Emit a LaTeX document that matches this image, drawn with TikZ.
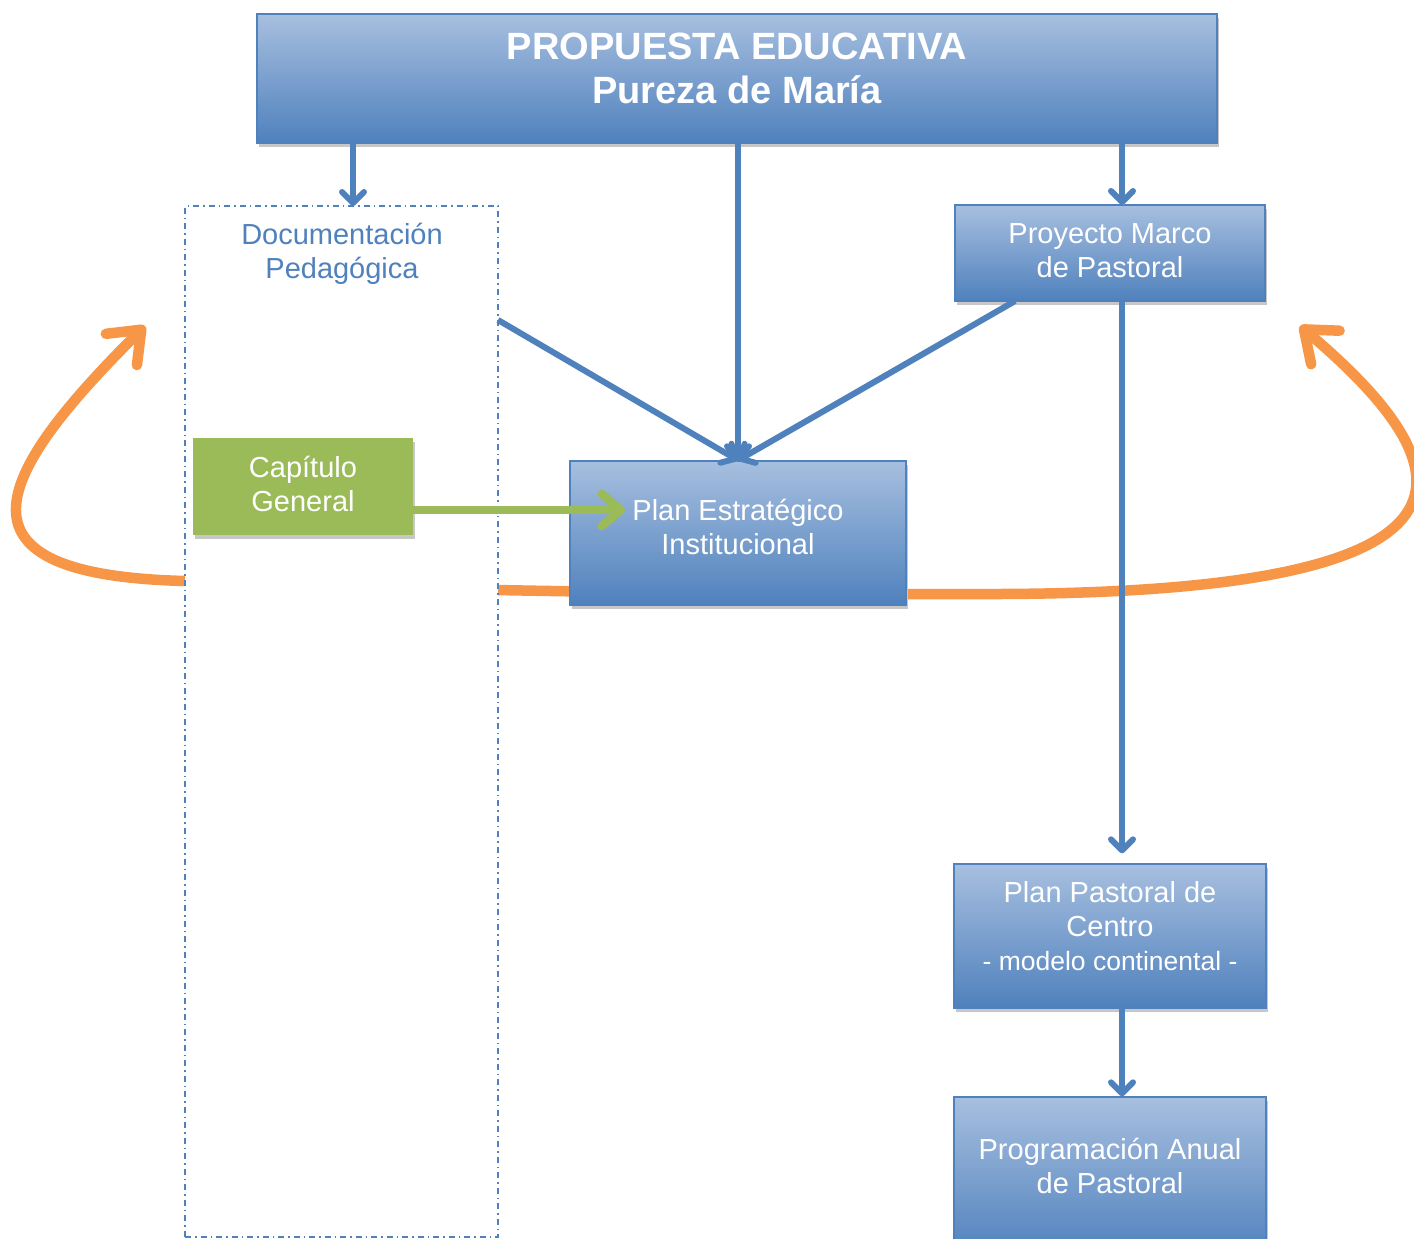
\documentclass[tikz,border=0pt]{standalone}
\usepackage{fontspec}
\setmainfont{Liberation Sans}
\usetikzlibrary{arrows.meta,shadows}
\definecolor{peBlue}{RGB}{79,129,189}
\definecolor{peLight}{RGB}{167,191,223}
\definecolor{peGreen}{RGB}{155,187,89}
\definecolor{peOrange}{RGB}{247,150,70}

\tikzset{
  boxshadow/.style={drop shadow={shadow xshift=1.5pt,shadow yshift=-4pt,fill=black!22,opacity=1}},
  bluebox/.style={draw=peBlue, line width=1.4pt, top color=peLight, bottom color=peBlue, inner sep=0pt, boxshadow},
  boxtext/.style={text=white, align=center, inner sep=0pt, font=\fontsize{29}{34}\selectfont},
  lineshadow/.style={preaction={draw=black!20, transform canvas={xshift=1.5pt,yshift=-2.5pt}}},
  flow/.style={draw=peBlue, line width=6pt, lineshadow, -{Straight Barb[round,length=11pt,width=22pt]}},
  capflow/.style={draw=peGreen, line width=8.5pt, lineshadow, -{Straight Barb[round,length=19pt,width=32pt]}},
  cycleflow/.style={draw=peOrange, line width=10.5pt, lineshadow,
    arrows={Straight Barb[round,length=28pt,width=44pt]-Straight Barb[round,length=28pt,width=44pt]}},
}

\begin{document}
\begin{tikzpicture}[x=1pt,y=-1pt]
  \useasboundingbox (0,0) rectangle (1414,1239);
  \clip (0,0) rectangle (1414,1239);

  % orange cycle, behind the boxes
  \coordinate (cycleL) at (145,326);
  \coordinate (cycleR) at (1300,326);
  \draw[cycleflow] (cycleL) .. controls (-10,480) and (-55,575) .. (185,581)
    .. controls (450,592) and (800,595) .. (1000,594)
    .. controls (1510,592) and (1470,470) .. (cycleR);

  % documentacion pedagogica
  \node[draw=peBlue, fill=white, line width=1.4pt, dash pattern=on 6pt off 4pt on 1.5pt off 4pt,
    minimum width=313pt, minimum height=1031pt] (doc) at (341.5,721.5) {};
  \node[text=peBlue, align=center, inner sep=0pt, font=\fontsize{29}{34}\selectfont] (doc-text) at (342,253.5) {Documentación\\Pedagógica};

  % boxes
  \node[bluebox, minimum width=960pt, minimum height=129pt] (propuesta) at (737,78.5) {};
  \node[boxtext, font=\bfseries\fontsize{38}{44}\selectfont] (propuesta-text) at (737,68) {PROPUESTA EDUCATIVA\\Pureza de María};

  \node[bluebox, minimum width=310pt, minimum height=96pt] (pmp) at (1110,253) {};
  \node[boxtext] (pmp-text) at (1110,251) {Proyecto Marco\\de Pastoral};

  \node[bluebox, minimum width=336pt, minimum height=144pt] (pei) at (738,533) {};
  \node[boxtext] (pei-text) at (738,527) {Plan Estratégico\\Institucional};

  \node[bluebox, minimum width=312pt, minimum height=144pt] (ppc) at (1110,936) {};
  \node[boxtext] (ppc-text) at (1110,926) {Plan Pastoral de\\Centro\\{\fontsize{26.5}{34}\selectfont - modelo continental -}};

  \node[bluebox, minimum width=312pt, minimum height=160pt] (pap) at (1110,1177) {};
  \node[boxtext] (pap-text) at (1110,1166) {Programación Anual\\de Pastoral};

  \node[fill=peGreen, boxshadow, minimum width=220pt, minimum height=97pt] (cap) at (303,486.5) {};
  \node[boxtext] (cap-text) at (303,484) {Capítulo\\General};

  % connectors
  \coordinate (docIn) at (353,206);
  \coordinate (pmpIn) at (1122,205);
  \coordinate (docOut) at (498,320);
  \coordinate (pmpOut) at (1015,301);
  \coordinate (capOut) at (413,510);
  \coordinate (peiIn) at (625,510);
  \draw[flow] (propuesta.south -| docIn) -- (docIn);
  \draw[flow] (propuesta.south -| pei.north) -- (pei.north);
  \draw[flow] (propuesta.south -| pmpIn) -- (pmpIn);
  \draw[flow] (docOut) -- (pei.north);
  \draw[flow] (pmpOut) -- (pei.north);
  \draw[flow, shorten >=10pt] (pmp.south -| pmpIn) -- (ppc.north -| pmpIn);
  \draw[flow] (ppc.south -| pmpIn) -- (pap.north -| pmpIn);
  \draw[capflow] (capOut) -- (peiIn);
\end{tikzpicture}
\end{document}
